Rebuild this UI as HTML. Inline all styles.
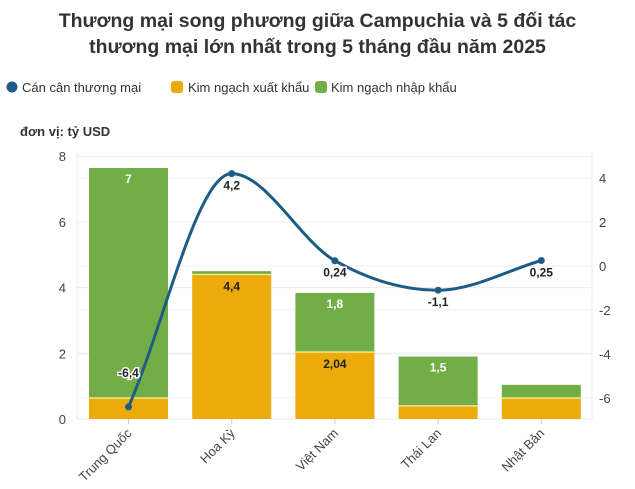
<!DOCTYPE html>
<html><head><meta charset="utf-8"><style>
body{margin:0;background:#fff;font-family:"Liberation Sans","DejaVu Sans",sans-serif;}
#wrap{position:relative;width:635px;height:489px;overflow:hidden;}
.title{position:absolute;left:0;width:635px;text-align:center;font-weight:bold;font-size:19.5px;color:#333;line-height:26px;top:8px;}
</style></head><body>
<div id="wrap">
<div class="title">Thương mại song phương giữa Campuchia và 5 đối tác<br>thương mại lớn nhất trong 5 tháng đầu năm 2025</div>
<svg id="svg" width="635" height="489" style="position:absolute;left:0;top:0" font-family="Liberation Sans, DejaVu Sans, sans-serif">
<g>
<g><circle cx="12" cy="87" r="5.5" fill="#1d5d85"/><text x="22" y="92" font-size="13" fill="#333">Cán cân thương mại</text></g>
<g><rect x="171" y="81" width="12" height="12" rx="3" fill="#eaab0b"/><text x="188" y="92" font-size="13" fill="#333">Kim ngạch xuất khẩu</text></g>
<g><rect x="315" y="81" width="12" height="12" rx="3" fill="#72ad47"/><text x="331" y="92" font-size="13" fill="#333">Kim ngạch nhập khẩu</text></g>
</g>
<text x="20" y="136" font-size="13" font-weight="bold" fill="#333">đơn vị: tỷ USD</text>
<g id="grid"></g><g id="bars"></g><g id="line"></g><g id="axes"></g>
</svg>
</div>
<script>
const categories=["Trung Quốc","Hoa Kỳ","Việt Nam","Thái Lan","Nhật Bản"];
const exportVals=[0.64,4.4,2.04,0.4,0.64];
const importVals=[7,0.1,1.8,1.5,0.4];
const balanceVals=[-6.4,4.2,0.24,-1.1,0.25];
const exportLabels=["","4,4","2,04","",""];
const importLabels=["7","","1,8","1,5",""];
const balanceLabels=["-6,4","4,2","0,24","-1,1","0,25"];
const leftTicks=[0,2,4,6,8];
const rightTicks=[-6,-4,-2,0,2,4];
const NS="http://www.w3.org/2000/svg";
const x0=77,x1=592,step=103.2,firstC=128.5,bw=79;
const yL=v=>419-v*32.85;
const yR=v=>266-v*22;
const xC=i=>firstC+i*step;
function mk(t,a,p){const e=document.createElementNS(NS,t);for(const k in a)e.setAttribute(k,a[k]);(p||document.getElementById('svg')).appendChild(e);return e;}
const grid=document.getElementById('grid'),bars=document.getElementById('bars'),line=document.getElementById('line'),axes=document.getElementById('axes');
leftTicks.forEach(v=>{
  const g=mk('line',{x1:x0,x2:x1,y1:yL(v),y2:yL(v),stroke:'#ebebeb','stroke-width':1},grid);
  
  const t=mk('text',{x:66,y:yL(v)+5,'font-size':13,fill:'#444','text-anchor':'end'},axes);t.textContent=v;
  
});
rightTicks.forEach(v=>{
  const g=mk('line',{x1:x0,x2:x1,y1:yR(v),y2:yR(v),stroke:'#f2f2f2','stroke-width':1},grid);
  
  const t=mk('text',{x:599,y:yR(v)+5,'font-size':13,fill:'#444'},axes);t.textContent=String(v);
  
});
mk('line',{x1:x0,x2:x0,y1:152,y2:419,stroke:'#ebebeb'},grid);
mk('line',{x1:x1,x2:x1,y1:152,y2:419,stroke:'#ebebeb'},grid);
categories.forEach((c,i)=>{
  const cx=xC(i),l=cx-bw/2;
  const e=mk('rect',{x:l,y:yL(exportVals[i]),width:bw,height:419-yL(exportVals[i]),fill:'#eaab0b'},bars);
  
  const top=exportVals[i]+importVals[i];
  const m=mk('rect',{x:l,y:yL(top),width:bw,height:yL(exportVals[i])-yL(top),fill:'#72ad47'},bars);
  
  mk('line',{x1:l,x2:l+bw,y1:yL(exportVals[i]),y2:yL(exportVals[i]),stroke:'#fff3a0','stroke-width':1.2},bars);
  if(exportLabels[i]){const t=mk('text',{x:cx,y:yL(exportVals[i])+16,'font-size':12,'font-weight':'bold',fill:'#222','text-anchor':'middle'},bars);t.textContent=exportLabels[i];}
  if(importLabels[i]){const t=mk('text',{x:cx,y:yL(top)+15,'font-size':12,'font-weight':'bold',fill:'#fff','text-anchor':'middle'},bars);t.textContent=importLabels[i];}
  mk('line',{x1:cx,x2:cx,y1:419,y2:424,stroke:'#ccc'},axes);
  const lbl=mk('text',{x:cx+4,y:434,'font-size':13,fill:'#444','text-anchor':'end',transform:`rotate(-45 ${cx+4} 434)`},axes);lbl.textContent=c;
  
});
// monotone cubic (Fritsch-Carlson)
const pts=balanceVals.map((v,i)=>[xC(i),yR(v)]);
const n=pts.length,sl=[],tg=[];
for(let i=0;i<n-1;i++)sl.push((pts[i+1][1]-pts[i][1])/(pts[i+1][0]-pts[i][0]));
for(let i=0;i<n;i++){
  if(i===0)tg.push(sl[0]);else if(i===n-1)tg.push(sl[n-2]);
  else tg.push(sl[i-1]*sl[i]<=0?0:(sl[i-1]+sl[i])/2);
}
for(let i=0;i<n-1;i++){if(sl[i]===0){tg[i]=0;tg[i+1]=0;continue;}const a=tg[i]/sl[i],b=tg[i+1]/sl[i],s=a*a+b*b;if(s>9){const t=3/Math.sqrt(s);tg[i]=t*a*sl[i];tg[i+1]=t*b*sl[i];}}
let d=`M${pts[0][0]},${pts[0][1]}`;
for(let i=0;i<n-1;i++){const h=(pts[i+1][0]-pts[i][0])/3;
  d+=` C${pts[i][0]+h},${pts[i][1]+tg[i]*h} ${pts[i+1][0]-h},${pts[i+1][1]-tg[i+1]*h} ${pts[i+1][0]},${pts[i+1][1]}`;}
const path=mk('path',{d:d,fill:'none',stroke:'#1d5d85','stroke-width':3},line);

pts.forEach((p,i)=>{
  const c=mk('circle',{cx:p[0],cy:p[1],r:3.5,fill:'#1d5d85'},line);
  
  const ly=i===0?p[1]-30:p[1]+16;
  const t=mk('text',{x:p[0],y:ly,'font-size':12,'font-weight':'bold',fill:'#222','text-anchor':'middle',stroke:'#fff','stroke-width':3,'paint-order':'stroke'},line);
  t.textContent=balanceLabels[i];
  
});
</script>
</body></html>
